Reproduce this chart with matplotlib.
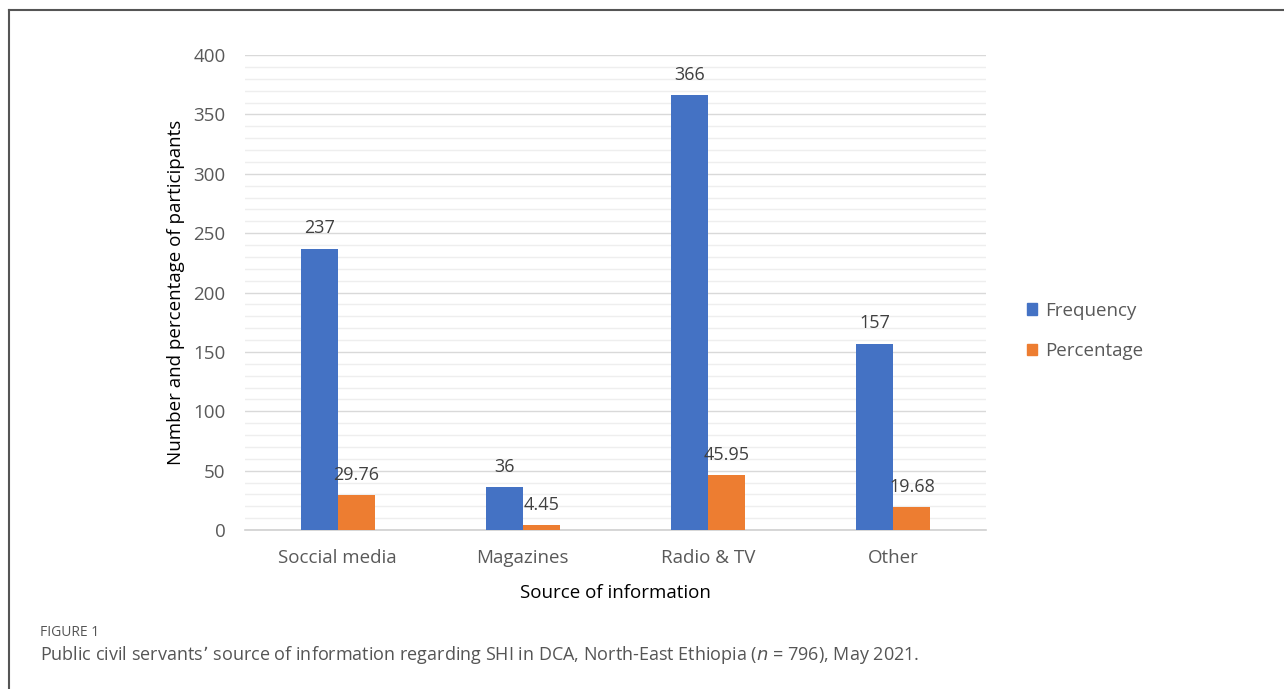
import numpy as np
import matplotlib
matplotlib.use("Agg")
import matplotlib.pyplot as plt
from matplotlib.lines import Line2D
from matplotlib.patches import Patch

categories = ["Soccial media", "Magazines", "Radio & TV", "Other"]
frequency = [237, 36, 366, 157]
percentage = [29.76, 4.45, 45.95, 19.68]
freq_labels = ["237", "36", "366", "157"]
pct_labels = ["29.76", "4.45", "45.95", "19.68"]

blue = "#4472C4"
orange = "#ED7D31"
tick_gray = "#595959"

plt.rcParams["font.family"] = ["Open Sans", "DejaVu Sans"]

fig = plt.figure(figsize=(12.84, 6.89), dpi=100)
ax = fig.add_axes([245 / 1284, 1 - 530 / 689, 741 / 1284, 475 / 689])

x = np.arange(len(categories))
w = 0.2
ax.bar(x - w / 2, frequency, w, color=blue, zorder=3)
ax.bar(x + w / 2, percentage, w, color=orange, zorder=3)

for i in range(len(categories)):
    ax.annotate(freq_labels[i], (x[i] - w / 2, frequency[i]), xytext=(0, 8),
                textcoords="offset points", ha="center", va="bottom",
                fontsize=13, color="#404040")
    ax.annotate(pct_labels[i], (x[i] + w / 2, percentage[i]), xytext=(0, 8),
                textcoords="offset points", ha="center", va="bottom",
                fontsize=13, color="#404040")

ax.set_xlim(-0.5, len(categories) - 0.5)
ax.set_ylim(0, 400)
ax.set_yticks(np.arange(0, 401, 50))
ax.set_yticks(np.arange(0, 401, 10), minor=True)
ax.set_xticks(x)
ax.set_xticklabels(categories)

ax.grid(axis="y", which="major", color="#d9d9d9", lw=1.0, zorder=0)
ax.grid(axis="y", which="minor", color="#eeeeee", lw=1.0, zorder=0)
for s in ["top", "right", "left"]:
    ax.spines[s].set_visible(False)
ax.spines["bottom"].set_color("#d0d0d0")
ax.spines["bottom"].set_linewidth(1.2)
ax.tick_params(axis="both", which="both", length=0, labelsize=13.5, labelcolor=tick_gray)
ax.tick_params(axis="x", pad=14)
ax.tick_params(axis="y", pad=14)

ax.set_ylabel("Number and percentage of participants", fontsize=13.5, color="black", labelpad=6)
ax.set_xlabel("Source of information", fontsize=13.5, color="black", labelpad=12)

handles = [Patch(color=blue), Patch(color=orange)]
fig.legend(handles, ["Frequency", "Percentage"], loc="center left",
           bbox_to_anchor=(1010 / 1284, 1 - 331 / 689), frameon=False,
           fontsize=13.5, labelcolor=tick_gray, handlelength=0.55, handleheight=0.55,
           handletextpad=0.4, labelspacing=1.2)

# frame lines
fig.add_artist(Line2D([9 / 1284, 1], [1 - 10 / 689, 1 - 10 / 689], color="#555555", lw=1.5))
fig.add_artist(Line2D([9 / 1284, 9 / 1284], [0, 1 - 10 / 689], color="#555555", lw=1.5))

fig.text(40 / 1284, 1 - 632 / 689, "FIGURE 1", fontsize=10, color="#555555", va="center")
fig.text(40 / 1284, 1 - 655 / 689,
         "Public civil servants\u2019 source of information regarding SHI in DCA, North-East Ethiopia ($n$ = 796), May 2021.",
         fontsize=13, color="#555555", va="center")

fig.savefig("out.png", dpi=100)
